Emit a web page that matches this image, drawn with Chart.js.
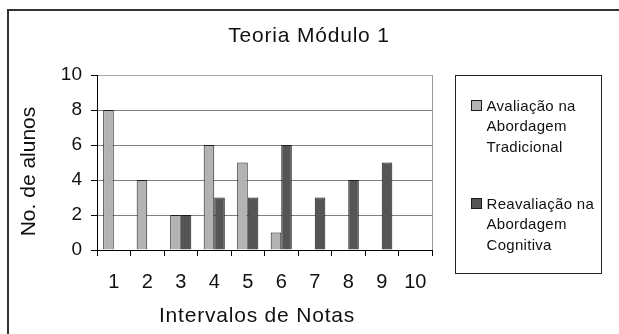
<!DOCTYPE html>
<html>
<head>
<meta charset="utf-8">
<script src="https://cdn.jsdelivr.net/npm/chart.js@4.4.0/dist/chart.umd.min.js"></script>
<style>
  html, body { margin: 0; padding: 0; background: #fff; }
  #wrap { position: relative; width: 619px; height: 334px; overflow: hidden; }
</style>
</head>
<body>
<div id="wrap"><canvas id="chart" width="619" height="334"></canvas></div>
<script>
const categories = ["1", "2", "3", "4", "5", "6", "7", "8", "9", "10"];
const avaliacao = [8, 4, 2, 6, 5, 1, 0, 0, 0, 0];
const reavaliacao = [0, 0, 2, 3, 3, 6, 3, 4, 5, 0];
const seriesNames = [
  ["Avaliação na", "Abordagem", "Tradicional"],
  ["Reavaliação na", "Abordagem", "Cognitiva"]
];
const yTicks = [0, 2, 4, 6, 8, 10];
const chartTitle = "Teoria Módulo 1";
const xTitle = "Intervalos de Notas";
const yTitle = "No. de alunos";

const FONT = "'Liberation Sans', Arial, sans-serif";
const INK = "#111";

// title, axis titles, legend box and frame
const decor = {
  id: "decor",
  beforeDraw(chart) {
    const ctx = chart.ctx;
    ctx.save();
    ctx.fillStyle = "#fff";
    ctx.fillRect(0, 0, chart.width, chart.height);
    ctx.restore();
  },
  afterDraw(chart) {
    const { ctx, chartArea: a } = chart;
    ctx.save();

    // outer frame (only top/left visible)
    ctx.strokeStyle = "#333";
    ctx.lineWidth = 2;
    ctx.beginPath();
    ctx.moveTo(8, chart.height);
    ctx.lineTo(8, 10);
    ctx.lineTo(chart.width, 10);
    ctx.stroke();

    // plot area right edge
    ctx.strokeStyle = "#9a9a9a";
    ctx.lineWidth = 1;
    ctx.beginPath();
    ctx.moveTo(Math.round(a.right) + 0.5, a.top);
    ctx.lineTo(Math.round(a.right) + 0.5, a.bottom);
    ctx.stroke();

    ctx.fillStyle = INK;
    ctx.textBaseline = "alphabetic";
    ctx.textAlign = "center";

    ctx.font = "21px " + FONT;
    ctx.letterSpacing = "0.8px";
    ctx.fillText(chartTitle, 309, 42);
    ctx.fillText(xTitle, 257, 322);

    ctx.letterSpacing = "0px";
    ctx.save();
    ctx.translate(35, 171.5);
    ctx.rotate(-Math.PI / 2);
    ctx.fillText(yTitle, 0, 0);
    ctx.restore();

    // legend
    ctx.strokeStyle = "#222";
    ctx.lineWidth = 1;
    ctx.strokeRect(455.5, 75.5, 146, 198);
    ctx.font = "15px " + FONT;
    ctx.letterSpacing = "0.3px";
    ctx.textAlign = "left";
    chart.data.datasets.forEach((ds, i) => {
      const base = 111 + i * 98;
      ctx.fillStyle = ds.backgroundColor;
      ctx.fillRect(471, base - 11, 10, 10);
      ctx.strokeStyle = ds.borderColor;
      ctx.strokeRect(471.5, base - 10.5, 10, 10);
      ctx.fillStyle = INK;
      seriesNames[i].forEach((line, j) => {
        ctx.fillText(line, 486.5, base + j * 20.3);
      });
    });
    ctx.restore();
  }
};

new Chart(document.getElementById("chart"), {
  type: "bar",
  data: {
    labels: categories,
    datasets: [
      {
        label: seriesNames[0].join(" "),
        data: avaliacao,
        backgroundColor: "#b3b3b3",
        borderColor: "#1c1c1c",
        borderWidth: 1,
        categoryPercentage: 0.63,
        barPercentage: 1
      },
      {
        label: seriesNames[1].join(" "),
        data: reavaliacao,
        backgroundColor: "#555555",
        borderColor: "#1c1c1c",
        borderWidth: 1,
        categoryPercentage: 0.63,
        barPercentage: 1
      }
    ]
  },
  options: {
    responsive: false,
    animation: false,
    devicePixelRatio: 1,
    layout: { padding: { top: 75, right: 187, left: 0, bottom: 0 } },
    plugins: {
      legend: { display: false },
      title: { display: false },
      tooltip: { enabled: false }
    },
    scales: {
      x: {
        grid: { offset: true, drawOnChartArea: false, tickLength: 6, tickColor: "#000", color: "#000" },
        border: { color: "#000", width: 1 },
        ticks: { color: INK, font: { family: FONT, size: 20 }, padding: 14, maxRotation: 0, autoSkip: false },
        afterFit(s) { s.height = 84; }
      },
      y: {
        min: 0,
        max: 10,
        afterBuildTicks(s) { s.ticks = yTicks.map(v => ({ value: v })); },
        grid: {
          color: c => (c.tick && c.tick.value === 10 ? "#a6a6a6" : "#808080"),
          tickLength: 6,
          tickColor: "#000"
        },
        border: { color: "#000", width: 1 },
        ticks: { color: INK, font: { family: FONT, size: 19 }, padding: 9 },
        afterFit(s) { s.width = 97; }
      }
    }
  },
  plugins: [decor]
});
</script>
</body>
</html>
